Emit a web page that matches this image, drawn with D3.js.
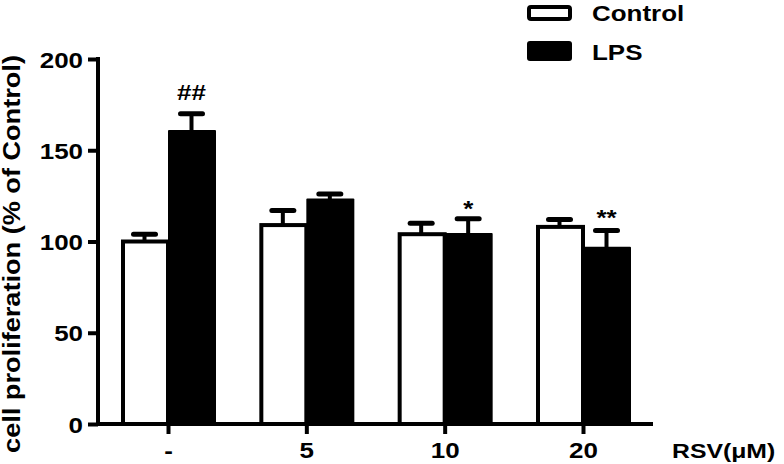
<!DOCTYPE html>
<html><head><meta charset="utf-8">
<script src="https://cdn.jsdelivr.net/npm/d3@7"></script>
<style>body{margin:0;background:#fff}svg{display:block}text{font-family:"Liberation Sans",Arial,sans-serif;font-weight:bold}</style>
</head><body><svg id="c" width="784" height="464"></svg>
<script>
const categories = ["-", "5", "10", "20"];
const series = ["Control", "LPS"];
const controlValues = [100, 109, 104, 108];
const controlErrors = [4, 8, 6, 4];
const lpsValues = [160, 122.5, 103.5, 96];
const lpsErrors = [10, 3.5, 9, 10];
const annotations = ["##", "", "*", "**"];
const yTicks = [0, 50, 100, 150, 200];

const SX = 1.18; // wide glyphs like the original
const svg = d3.select("#c");
const x = d3.scalePoint().domain(categories).range([168, 583]);
const y = d3.scaleLinear().domain([0, 200]).range([424, 59]);
const bw = 47;

function wideText(sel, px, py, str, size, anchor) {
  return sel.append("text").attr("transform", `translate(${px},${py}) scale(${SX},1)`)
    .attr("font-size", size).attr("text-anchor", anchor || "start").attr("fill", "#000").text(str);
}

// y axis
const yAxis = svg.append("g").attr("transform","translate(98,0)")
  .call(d3.axisLeft(y).tickValues(yTicks).tickSize(10).tickFormat(""));
yAxis.select(".domain").attr("stroke-width",4).attr("d","M0,"+y(0)+"V"+(y(200)-2));
yAxis.selectAll(".tick line").attr("stroke-width",4);
yAxis.selectAll(".tick").each(function(d){
  wideText(d3.select(this), -15, 8, d3.format("d")(d), 22, "end");
});

const data = categories.map((c,i)=>({c, vals:[{s:0,v:controlValues[i],e:controlErrors[i]},{s:1,v:lpsValues[i],e:lpsErrors[i]}]}));

const g = svg.append("g");
data.forEach((d,i)=>{
  d.vals.forEach(b=>{
    const cx = x(d.c) + (b.s===0 ? -bw/2 : bw/2);
    g.append("line").attr("x1",cx).attr("x2",cx).attr("y1",y(b.v)).attr("y2",y(b.v+b.e))
      .attr("stroke","#000").attr("stroke-width",4);
    g.append("line").attr("x1",cx-11).attr("x2",cx+11).attr("y1",y(b.v+b.e)).attr("y2",y(b.v+b.e))
      .attr("stroke","#000").attr("stroke-width",5).attr("stroke-linecap","round");
  });
});
const annDy = {"##": -14, "*": -3, "**": -6};
data.forEach((d,i)=>{
  const c = d.vals[0];
  g.append("rect").attr("x",x(d.c)-bw+2).attr("y",y(c.v)).attr("width",bw-2).attr("height",y(0)-y(c.v))
    .attr("fill","#fff").attr("stroke","#000").attr("stroke-width",4);
  const l = d.vals[1];
  g.append("rect").attr("x",x(d.c)).attr("y",y(l.v)-2).attr("width",bw+1).attr("height",y(0)-y(l.v)+2)
    .attr("fill","#000").attr("rx",1);
  if (annotations[i]) {
    wideText(g, x(d.c)+bw/2, y(l.v+l.e)+annDy[annotations[i]], annotations[i], 22, "middle");
  }
});

// x axis
const xAxis = svg.append("g").attr("transform","translate(0,"+y(0)+")")
  .call(d3.axisBottom(x).tickSize(10).tickFormat(""));
xAxis.select(".domain").attr("stroke-width",4).attr("d","M96,0H653");
xAxis.selectAll(".tick line").attr("stroke-width",4);
xAxis.selectAll(".tick").each(function(d){
  wideText(d3.select(this), 0, 34, d, 22, "middle");
});

wideText(svg, 672, 458, "RSV(μM)", 21, "start");

// y title
svg.append("text").attr("transform","translate(20,254) rotate(-90) scale(" + SX + ",1)").attr("text-anchor","middle")
  .attr("font-size",23).text("cell proliferation (% of Control)");

// legend
const leg = svg.append("g");
series.forEach((s,i)=>{
  if (i===0) {
    leg.append("rect").attr("x",529).attr("y",7).attr("width",41).attr("height",12)
      .attr("fill","#fff").attr("stroke","#000").attr("stroke-width",4).attr("rx",2);
  } else {
    leg.append("rect").attr("x",527).attr("y",41).attr("width",45).attr("height",20)
      .attr("fill","#000").attr("rx",3);
  }
  wideText(leg, 592, i===0 ? 21 : 60, s, 22, "start");
});
</script></body></html>
